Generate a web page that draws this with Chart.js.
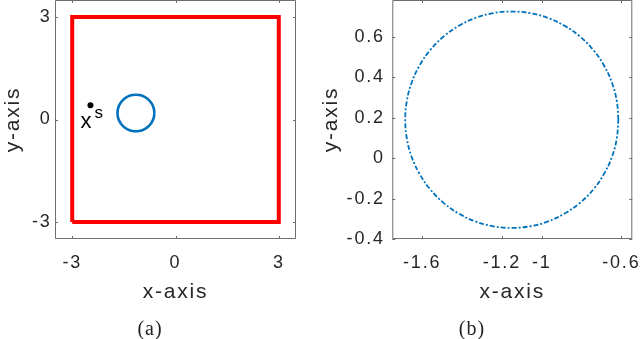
<!DOCTYPE html>
<html>
<head>
<meta charset="utf-8">
<script src="https://cdn.jsdelivr.net/npm/chart.js@4"></script>
<style>
  body { margin: 0; background: #fff; }
  #wrap { position: relative; width: 640px; height: 339px; overflow: hidden; }
  .panel { position: absolute; top: 0; width: 320px; height: 339px; }
  .cap { position: absolute; top: 318px; width: 100px; text-align: center;
         font: 20px/20px "Liberation Serif", serif; letter-spacing: 1px; color: #222; }
</style>
</head>
<body>
<div id="wrap">
  <div class="panel" style="left:0"><canvas id="left"></canvas></div>
  <div class="panel" style="left:320px"><canvas id="right"></canvas></div>
  <div class="cap" style="left:100px">(a)</div>
  <div class="cap" style="left:422px">(b)</div>
</div>
<script>
// circle boundary (same curve in both panels)
const circleX = [-0.615, -0.623, -0.647, -0.687, -0.740, -0.806, -0.883, -0.967, -1.057,
  -1.150, -1.243, -1.333, -1.418, -1.494, -1.560, -1.613, -1.653, -1.677, -1.685,
  -1.677, -1.653, -1.613, -1.560, -1.494, -1.418, -1.333, -1.243, -1.150, -1.057,
  -0.967, -0.883, -0.806, -0.740, -0.687, -0.647, -0.623, -0.615];
const circleY = [0.190, 0.283, 0.373, 0.458, 0.534, 0.600, 0.653, 0.693, 0.717,
  0.725, 0.717, 0.693, 0.653, 0.600, 0.534, 0.458, 0.373, 0.283, 0.190,
  0.097, 0.007, -0.078, -0.154, -0.220, -0.273, -0.313, -0.337, -0.345, -0.337,
  -0.313, -0.273, -0.220, -0.154, -0.078, 0.007, 0.097, 0.190];

// domain square and source point (left panel)
const squareX = [-3, 3, 3, -3, -3];
const squareY = [-3, -3, 3, 3, -3];
const sourceX = [-2.47];
const sourceY = [0.42];
const sourceLabel = "x";
const sourceSup = "s";

// ticks
const leftTicks = [-3, 0, 3];
const leftTickLabels = ["-3", "0", "3"];
const rightXTicks = [-1.6, -1.2, -1, -0.6];
const rightXTickLabels = ["-1.6", "-1.2", "-1", "-0.6"];
const rightYTicks = [-0.4, -0.2, 0, 0.2, 0.4, 0.6];
const rightYTickLabels = ["-0.4", "-0.2", "0", "0.2", "0.4", "0.6"];

const toPts = (xs, ys) => xs.map((x, i) => ({ x: x, y: ys[i] }));
const textColor = "#262626";
const tickFont = { family: "Liberation Sans", size: 18, lineHeight: 1 };
const titleFont = { family: "Liberation Sans", size: 21, lineHeight: 1 };

// matlab-like box with inward tick marks
const boxPlugin = {
  id: "box",
  beforeDraw(chart) {
    chart.ctx.letterSpacing = "1.8px";
  },
  afterDraw(chart) {
    const ctx = chart.ctx;
    const a = chart.chartArea;
    const sx = chart.scales.x, sy = chart.scales.y;
    ctx.save();
    ctx.strokeStyle = "#6e6e6e";
    ctx.lineWidth = 1;
    ctx.beginPath();
    ctx.rect(a.left + 0.5, a.top + 0.5, a.right - a.left - 1, a.bottom - a.top - 1);
    sx.ticks.forEach(t => {
      const px = Math.round(sx.getPixelForValue(t.value)) + 0.5;
      ctx.moveTo(px, a.bottom); ctx.lineTo(px, a.bottom - 3);
      ctx.moveTo(px, a.top); ctx.lineTo(px, a.top + 3);
    });
    sy.ticks.forEach(t => {
      const py = Math.round(sy.getPixelForValue(t.value)) + 0.5;
      ctx.moveTo(a.left, py); ctx.lineTo(a.left + 3, py);
      ctx.moveTo(a.right, py); ctx.lineTo(a.right - 3, py);
    });
    ctx.stroke();
    ctx.restore();
  }
};

const sourceLabelPlugin = {
  id: "sourceLabel",
  afterDatasetsDraw(chart) {
    const ctx = chart.ctx;
    const px = chart.scales.x.getPixelForValue(sourceX[0]);
    const py = chart.scales.y.getPixelForValue(sourceY[0]);
    ctx.save();
    ctx.fillStyle = "#000";
    ctx.textBaseline = "alphabetic";
    ctx.textAlign = "left";
    ctx.font = '22px "Liberation Sans"';
    ctx.fillText(sourceLabel, px - 10, py + 22.5);
    ctx.font = '17px "Liberation Sans"';
    ctx.fillText(sourceSup, px + 4, py + 12.5);
    ctx.restore();
  }
};

function axisOpts(min, max, vals, labels, isX, fixedSize, pad) {
  return {
    type: "linear",
    min: min,
    max: max,
    grid: { display: false, drawTicks: false },
    border: { display: false },
    afterBuildTicks: s => { s.ticks = vals.map(v => ({ value: v })); },
    afterFit: s => {
      if (isX) s.height = fixedSize; else s.width = fixedSize;
      // no extra room for overhanging end labels
      s.paddingTop = 0; s.paddingBottom = 0; s.paddingLeft = 0; s.paddingRight = 0;
    },
    ticks: {
      font: tickFont,
      color: textColor,
      padding: pad,
      autoSkip: false,
      maxRotation: 0,
      callback: (v) => labels[vals.indexOf(v)]
    },
    title: {
      display: true,
      text: isX ? "x-axis" : "y-axis",
      font: titleFont,
      color: textColor,
      padding: isX ? { top: 0, bottom: 36 } : { top: 2.5, bottom: 0 }
    }
  };
}

const common = {
  responsive: true,
  maintainAspectRatio: false,
  animation: false,
  plugins: { legend: { display: false }, tooltip: { enabled: false } }
};

new Chart(document.getElementById("left"), {
  type: "scatter",
  data: {
    datasets: [
      { data: toPts(squareX, squareY), showLine: true, borderColor: "#ff0000",
        borderWidth: 4, pointRadius: 0, tension: 0, borderJoinStyle: "miter" },
      { data: toPts(circleX, circleY), showLine: true, borderColor: "#0072bd",
        borderWidth: 2.6, pointRadius: 0, tension: 0.4 },
      { data: toPts(sourceX, sourceY), pointRadius: 3, backgroundColor: "#000",
        borderColor: "#000", borderWidth: 0 }
    ]
  },
  options: Object.assign({}, common, {
    layout: { autoPadding: false, padding: { top: 0, right: 24, left: 0, bottom: 0 } },
    scales: {
      x: axisOpts(-3.5, 3.5, leftTicks, leftTickLabels, true, 100, 15),
      y: axisOpts(-3.5, 3.5, leftTicks, leftTickLabels, false, 55, 3.5)
    }
  }),
  plugins: [boxPlugin, sourceLabelPlugin]
});

const rightX = axisOpts(-1.75, -0.545, rightXTicks, rightXTickLabels, true, 100, 15);
const rightY = axisOpts(-0.4, 0.782, rightYTicks, rightYTickLabels, false, 72.3, 7.5);
rightY.title.padding = { top: 0.5, bottom: 0 };

new Chart(document.getElementById("right"), {
  type: "scatter",
  data: {
    datasets: [
      { data: toPts(circleX, circleY), showLine: true, borderColor: "#0072bd",
        borderWidth: 1.8, borderDash: [5, 2, 2, 2], pointRadius: 0, tension: 0.4 }
    ]
  },
  options: Object.assign({}, common, {
    layout: { autoPadding: false, padding: { top: 0, right: 7.7, left: 0, bottom: 0 } },
    scales: { x: rightX, y: rightY }
  }),
  plugins: [boxPlugin]
});
</script>
</body>
</html>
